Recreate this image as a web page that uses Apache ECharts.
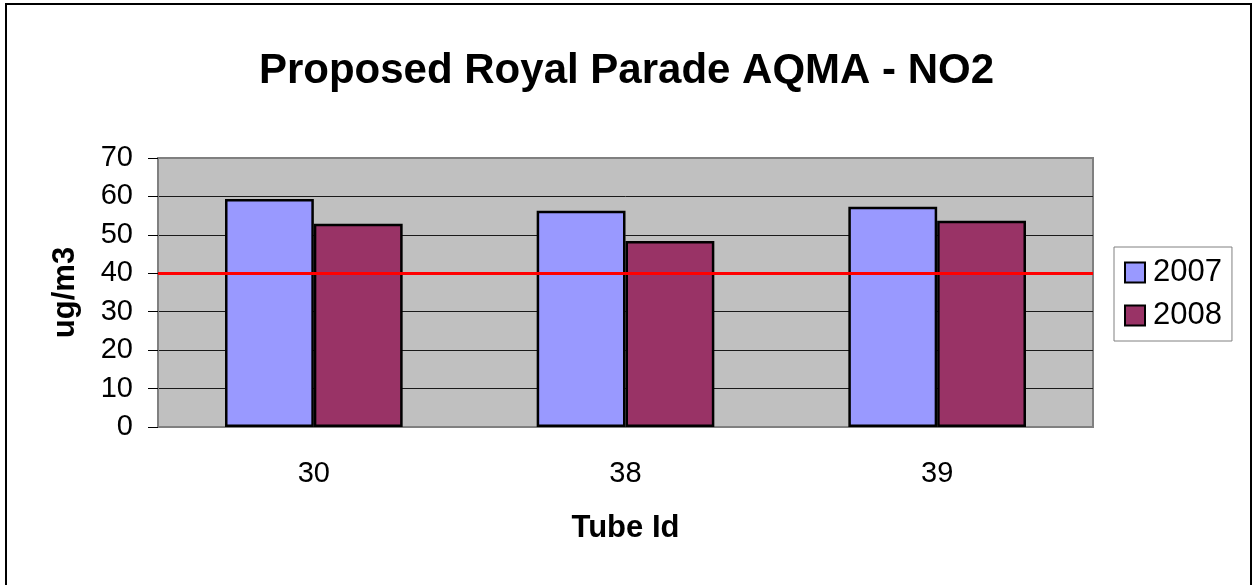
<!DOCTYPE html>
<html>
<head>
<meta charset="utf-8">
<title>Proposed Royal Parade AQMA - NO2</title>
<script src="https://cdn.jsdelivr.net/npm/echarts@6/dist/echarts.min.js"></script>
<style>
  html, body { margin: 0; padding: 0; background: #fff; }
  #chart { width: 1253px; height: 585px; }
</style>
</head>
<body>
<div id="chart"></div>
<script>
// 数据
const tubeIds = ['30', '38', '39'];
const no2_2007 = [59.3, 56.3, 57.3];
const no2_2008 = [52.9, 48.4, 53.7];
const objectiveLevel = 40;
const yTicks = [0, 10, 20, 30, 40, 50, 60, 70];

const FONT = '"Liberation Sans", Arial, sans-serif';

const chart = echarts.init(document.getElementById('chart'));

// 网格线颜色：最上面那条跟外框一样是灰色
const splitColors = yTicks.map((v, i) => i === yTicks.length - 1 ? '#808080' : '#1a1a1a');

const option = {
  backgroundColor: '#fff',
  animation: false,
  textStyle: { fontFamily: FONT, color: '#000' },
  title: {
    text: 'Proposed Royal Parade AQMA - NO2',
    left: 'center',
    top: 45,
    textStyle: { fontFamily: FONT, fontSize: 42, fontWeight: 'bold', color: '#000' }
  },
  graphic: [
    {
      type: 'rect',
      shape: { x: 6, y: 4, width: 1245, height: 600 },
      style: { fill: 'none', stroke: '#000', lineWidth: 2 },
      silent: true
    }
  ],
  legend: {
    orient: 'vertical',
    left: 1114,
    top: 247,
    padding: [10, 10, 10, 10],
    itemGap: 12,
    itemWidth: 20,
    itemHeight: 20,
    borderColor: '#808080',
    borderWidth: 1,
    backgroundColor: '#fff',
    icon: 'rect',
    textStyle: { fontFamily: FONT, fontSize: 31, color: '#000', padding: [0, 0, 0, 3] },
    data: ['2007', '2008']
  },
  grid: {
    left: 158,
    right: 160,
    top: 158,
    bottom: 158,
    show: true,
    backgroundColor: '#C0C0C0',
    borderColor: '#808080',
    borderWidth: 2
  },
  xAxis: {
    type: 'category',
    data: tubeIds,
    name: 'Tube Id',
    nameLocation: 'middle',
    nameGap: 86,
    nameTextStyle: { fontFamily: FONT, fontSize: 31, fontWeight: 'bold', color: '#000' },
    axisLine: { lineStyle: { color: '#808080', width: 2 } },
    axisTick: { inside: true, length: 10, lineStyle: { color: '#000' } },
    axisLabel: { fontFamily: FONT, fontSize: 29, color: '#000', margin: 32 }
  },
  yAxis: {
    type: 'value',
    min: 0,
    max: 70,
    interval: 10,
    name: 'ug/m3',
    nameLocation: 'middle',
    nameRotate: 90,
    nameGap: 77,
    nameTextStyle: { fontFamily: FONT, fontSize: 31, fontWeight: 'bold', color: '#000' },
    axisLine: { show: true, lineStyle: { color: '#808080', width: 2 } },
    axisTick: { show: true, length: 10, lineStyle: { color: '#000' } },
    axisLabel: { fontFamily: FONT, fontSize: 29, color: '#000', margin: 25 },
    splitLine: { show: true, lineStyle: { color: splitColors, width: 1 } }
  },
  series: [
    {
      name: '2007',
      type: 'bar',
      data: no2_2007,
      barGap: '0%',
      barCategoryGap: '43%',
      itemStyle: { color: '#9999FF', borderColor: '#000', borderWidth: 2.5 }
    },
    {
      name: '2008',
      type: 'bar',
      data: no2_2008,
      itemStyle: { color: '#993366', borderColor: '#000', borderWidth: 2.5 },
      markLine: {
        silent: true,
        symbol: ['none', 'none'],
        label: { show: false },
        lineStyle: { color: '#FF0000', width: 3, type: 'solid' },
        data: [{ yAxis: objectiveLevel }]
      }
    }
  ]
};

chart.setOption(option);
window.addEventListener('resize', () => chart && chart.resize());
</script>
</body>
</html>
